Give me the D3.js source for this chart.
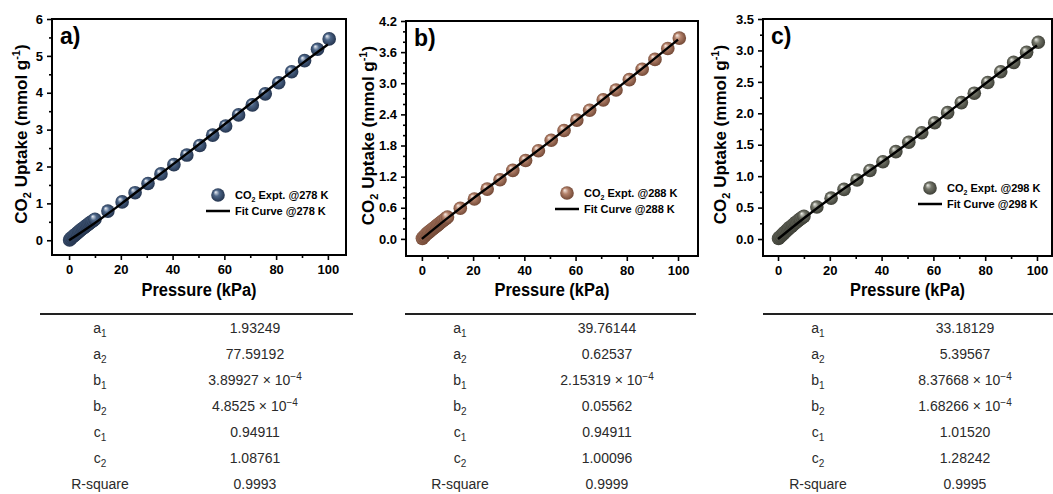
<!DOCTYPE html>
<html lang="en">
<head>
<meta charset="UTF-8">
<title>CO2 uptake fits</title>
<style>
    body { margin: 0; background: #fff; }
    svg text { font-family: "Liberation Sans", Arial, sans-serif; }
    .axis path { display: none; }
    .axis line { stroke: #000; stroke-width: 1.6; }
    .axis text { font-size: 13px; font-weight: bold; fill: #000; }
    .lbl { font-weight: bold; fill: #000; }
    .tbl { font-size: 14px; fill: #2a2a2a; text-anchor: middle; }
</style>
</head>
<body>
<svg class="fig"></svg>
<script src="https://cdn.jsdelivr.net/npm/d3@7/dist/d3.min.js"></script>
<script>
    // measured pressure points (kPa), shared by the three isotherms
    var pressure = [0.2, 0.7, 1.2, 1.7, 2.2, 2.7, 3.2, 3.7, 4.2, 4.7, 5.2, 5.7, 6.2, 6.7, 7.2, 7.7, 8.2, 8.7, 9.3, 10,
        15, 20.5, 25.5, 30.5, 35.5, 40.5, 45.5, 50.5, 55.5, 60.5, 65.5, 70.8, 75.8, 81, 86, 91, 96, 100.5]

    var uptake278 = [0.01, 0.05, 0.08, 0.11, 0.14, 0.17, 0.20, 0.23, 0.26, 0.29, 0.32, 0.34, 0.37, 0.40, 0.42, 0.45, 0.48, 0.50, 0.53, 0.57,
        0.79, 1.04, 1.29, 1.54, 1.80, 2.05, 2.31, 2.57, 2.85, 3.10, 3.40, 3.67, 3.97, 4.27, 4.57, 4.87, 5.18, 5.46]
    var uptake288 = [0.01, 0.04, 0.06, 0.09, 0.11, 0.13, 0.15, 0.17, 0.19, 0.21, 0.23, 0.25, 0.27, 0.29, 0.31, 0.33, 0.35, 0.37, 0.39, 0.42,
        0.59, 0.77, 0.96, 1.14, 1.32, 1.51, 1.70, 1.90, 2.09, 2.29, 2.48, 2.68, 2.87, 3.07, 3.27, 3.46, 3.67, 3.87]
    var uptake298 = [0.01, 0.03, 0.05, 0.07, 0.09, 0.11, 0.13, 0.15, 0.17, 0.19, 0.20, 0.22, 0.24, 0.26, 0.27, 0.29, 0.31, 0.32, 0.34, 0.36,
        0.51, 0.65, 0.79, 0.94, 1.09, 1.23, 1.39, 1.54, 1.69, 1.85, 2.01, 2.17, 2.32, 2.49, 2.66, 2.81, 2.97, 3.13]

    // fit curves
    var fitPressure = [0, 10, 20, 30, 40, 50, 60, 70, 80, 90, 100]
    var fit278 = [0, 0.47, 0.98, 1.52, 2.05, 2.59, 3.14, 3.70, 4.25, 4.79, 5.31]
    var fit288 = [0, 0.40, 0.78, 1.14, 1.51, 1.88, 2.27, 2.66, 3.05, 3.44, 3.84]
    var fit298 = [0, 0.33, 0.64, 0.93, 1.22, 1.52, 1.83, 2.15, 2.47, 2.78, 3.08]

    var xTicks = [0, 20, 40, 60, 80, 100]
    var yTicks278 = [0, 1, 2, 3, 4, 5, 6]
    var yTicks288 = [0, 0.6, 1.2, 1.8, 2.4, 3.0, 3.6, 4.2]
    var yTicks298 = [0, 0.5, 1.0, 1.5, 2.0, 2.5, 3.0, 3.5]

    // fitting parameters table
    var paramNames = ["a", "a", "b", "b", "c", "c", "R-square"]
    var paramSubs = ["1", "2", "1", "2", "1", "2", ""]
    var params278 = ["1.93249", "77.59192", "3.89927 × 10|−4", "4.8525 × 10|−4", "0.94911", "1.08761", "0.9993"]
    var params288 = ["39.76144", "0.62537", "2.15319 × 10|−4", "0.05562", "0.94911", "1.00096", "0.9999"]
    var params298 = ["33.18129", "5.39567", "8.37668 × 10|−4", "1.68266 × 10|−4", "1.01520", "1.28242", "0.9995"]

    var svg = d3.select('.fig').attr('width', 1053).attr('height', 494)
    var defs = svg.append('defs')

    var panels = [
        {tag: 'a)', temp: '278', y: uptake278, fit: fit278, yTicks: yTicks278, minor: 2, fmt: d3.format('d'), yMax: 6, yMin: -0.4,
         left: 52, right: 346, top: 19, bottom: 255, xDom: [-6.6, 107], ylabX: 27,
         colors: ['#eef2f8', '#4d6688', '#1f2e47'], leg: [218, 195], params: params278,
         tbl: [40, 353, 100, 255]},
        {tag: 'b)', temp: '288', y: uptake288, fit: fit288, yTicks: yTicks288, minor: 3, fmt: d3.format('.1f'), yMax: 4.2, yMin: -0.33,
         left: 406, right: 698, top: 21, bottom: 256, xDom: [-6.2, 107.8], ylabX: 374,
         colors: ['#f8ece4', '#b4826b', '#6a412f'], leg: [567, 193], params: params288,
         tbl: [405, 696, 460, 607]},
        {tag: 'c)', temp: '298', y: uptake298, fit: fit298, yTicks: yTicks298, minor: 2, fmt: d3.format('.1f'), yMax: 3.5, yMin: -0.27,
         left: 763, right: 1052, top: 19, bottom: 256, xDom: [-5.8, 105.8], ylabX: 726,
         colors: ['#eeefe9', '#74766a', '#373830'], leg: [930, 188], params: params298,
         tbl: [763, 1053, 818, 965]}
    ]

    panels.forEach(function (p, k) {
        // sphere look for the markers
        var grad = defs.append('radialGradient')
            .attr('id', 'ball' + k)
            .attr('cx', '50%').attr('cy', '50%').attr('r', '55%')
            .attr('fx', '32%').attr('fy', '28%')
        grad.append('stop').attr('offset', '0%').attr('stop-color', p.colors[0])
        grad.append('stop').attr('offset', '40%').attr('stop-color', p.colors[1])
        grad.append('stop').attr('offset', '100%').attr('stop-color', p.colors[2])

        var xScale = d3.scaleLinear().domain(p.xDom).range([p.left, p.right])
        var yScale = d3.scaleLinear().domain([p.yMin, p.yMax]).range([p.bottom, p.top])
        var g = svg.append('g')

        // 坐标轴
        var xAxis = d3.axisBottom(xScale).tickValues(xTicks).tickSizeInner(5).tickSizeOuter(0).tickPadding(5)
        g.append('g').attr('class', 'axis').attr('transform', 'translate(0,' + p.bottom + ')').call(xAxis)
        g.append('g').attr('class', 'axis').attr('transform', 'translate(0,' + p.bottom + ')')
            .call(d3.axisBottom(xScale).tickValues(xTicks.slice(1).map(function (d) { return d - 10 }))
                .tickSizeInner(3).tickSizeOuter(0).tickFormat(''))

        var step = p.yTicks[1] - p.yTicks[0]
        var minorY = []
        p.yTicks.slice(1).forEach(function (d) {
            for (var m = 1; m < p.minor; m++) minorY.push(d - step * m / p.minor)
        })
        var yAxis = d3.axisLeft(yScale).tickValues(p.yTicks).tickFormat(p.fmt).tickSizeInner(5).tickSizeOuter(0).tickPadding(4)
        g.append('g').attr('class', 'axis').attr('transform', 'translate(' + p.left + ',0)').call(yAxis)
        g.append('g').attr('class', 'axis').attr('transform', 'translate(' + p.left + ',0)')
            .call(d3.axisLeft(yScale).tickValues(minorY).tickSizeInner(3).tickSizeOuter(0).tickFormat(''))

        // 边框
        g.append('rect')
            .attr('x', p.left).attr('y', p.top)
            .attr('width', p.right - p.left).attr('height', p.bottom - p.top)
            .attr('fill', 'none').attr('stroke', '#000').attr('stroke-width', 2)

        // 数据点
        var pts = pressure.map(function (d, i) { return [d, p.y[i]] })
        g.selectAll('.pt').data(pts).enter().append('circle')
            .attr('class', 'pt')
            .attr('cx', function (d) { return xScale(d[0]) })
            .attr('cy', function (d) { return yScale(d[1]) })
            .attr('r', 6.8)
            .attr('fill', 'url(#ball' + k + ')')

        var line = d3.line()
            .x(function (d) { return xScale(d[0]) })
            .y(function (d) { return yScale(d[1]) })
            .curve(d3.curveMonotoneX)
        g.append('path')
            .datum(fitPressure.map(function (d, i) { return [d, p.fit[i]] }))
            .attr('d', line)
            .attr('fill', 'none').attr('stroke', '#000').attr('stroke-width', 2.4)

        // panel tag
        g.append('text').attr('class', 'lbl').attr('x', p.left + 8).attr('y', p.top + 25)
            .style('font-size', '23px').text(p.tag)

        // axis titles
        g.append('text').attr('class', 'lbl')
            .attr('x', (p.left + p.right) / 2).attr('y', 296)
            .attr('text-anchor', 'middle').style('font-size', '18px')
            .attr('textLength', 115).attr('lengthAdjust', 'spacingAndGlyphs')
            .text('Pressure (kPa)')

        var yl = g.append('text').attr('class', 'lbl')
            .attr('transform', 'translate(' + p.ylabX + ',' + ((p.top + p.bottom) / 2 - 3) + ') rotate(-90)')
            .attr('text-anchor', 'middle').style('font-size', '17px')
        yl.append('tspan').text('CO')
        yl.append('tspan').attr('dy', 4).style('font-size', '11px').text('2')
        yl.append('tspan').attr('dy', -4).text(' Uptake (mmol g')
        yl.append('tspan').attr('dy', -7).style('font-size', '11px').text('-1')
        yl.append('tspan').attr('dy', 7).text(')')

        // 图例
        var lx = p.leg[0], ly = p.leg[1]
        g.append('circle').attr('cx', lx).attr('cy', ly).attr('r', 6.8).attr('fill', 'url(#ball' + k + ')')
        var t1 = g.append('text').attr('class', 'lbl').attr('x', lx + 17).attr('y', ly + 4).style('font-size', '11px')
        t1.append('tspan').text('CO')
        t1.append('tspan').attr('dy', 3).style('font-size', '7px').text('2')
        t1.append('tspan').attr('dy', -3).text(' Expt. @' + p.temp + ' K')
        g.append('line').attr('x1', lx - 12).attr('x2', lx + 12).attr('y1', ly + 16).attr('y2', ly + 16)
            .attr('stroke', '#000').attr('stroke-width', 2.5)
        g.append('text').attr('class', 'lbl').attr('x', lx + 17).attr('y', ly + 20).style('font-size', '11px')
            .text('Fit Curve @' + p.temp + ' K')

        // 参数表
        var rowY = d3.scalePoint().domain(d3.range(paramNames.length)).range([328, 484])
        g.append('line').attr('x1', p.tbl[0]).attr('x2', p.tbl[1]).attr('y1', 314).attr('y2', 314)
            .attr('stroke', '#222').attr('stroke-width', 2)
        paramNames.forEach(function (name, i) {
            var tn = g.append('text').attr('class', 'tbl').attr('x', p.tbl[2]).attr('y', rowY(i) + 5)
            tn.append('tspan').text(name)
            if (paramSubs[i]) tn.append('tspan').attr('dy', 4).style('font-size', '10px').text(paramSubs[i])
            var parts = p.params[i].split('|')
            var tv = g.append('text').attr('class', 'tbl').attr('x', p.tbl[3]).attr('y', rowY(i) + 5)
            tv.append('tspan').text(parts[0])
            if (parts[1]) tv.append('tspan').attr('dy', -5).style('font-size', '10px').text(parts[1])
        })
    })
</script>
</body>
</html>
